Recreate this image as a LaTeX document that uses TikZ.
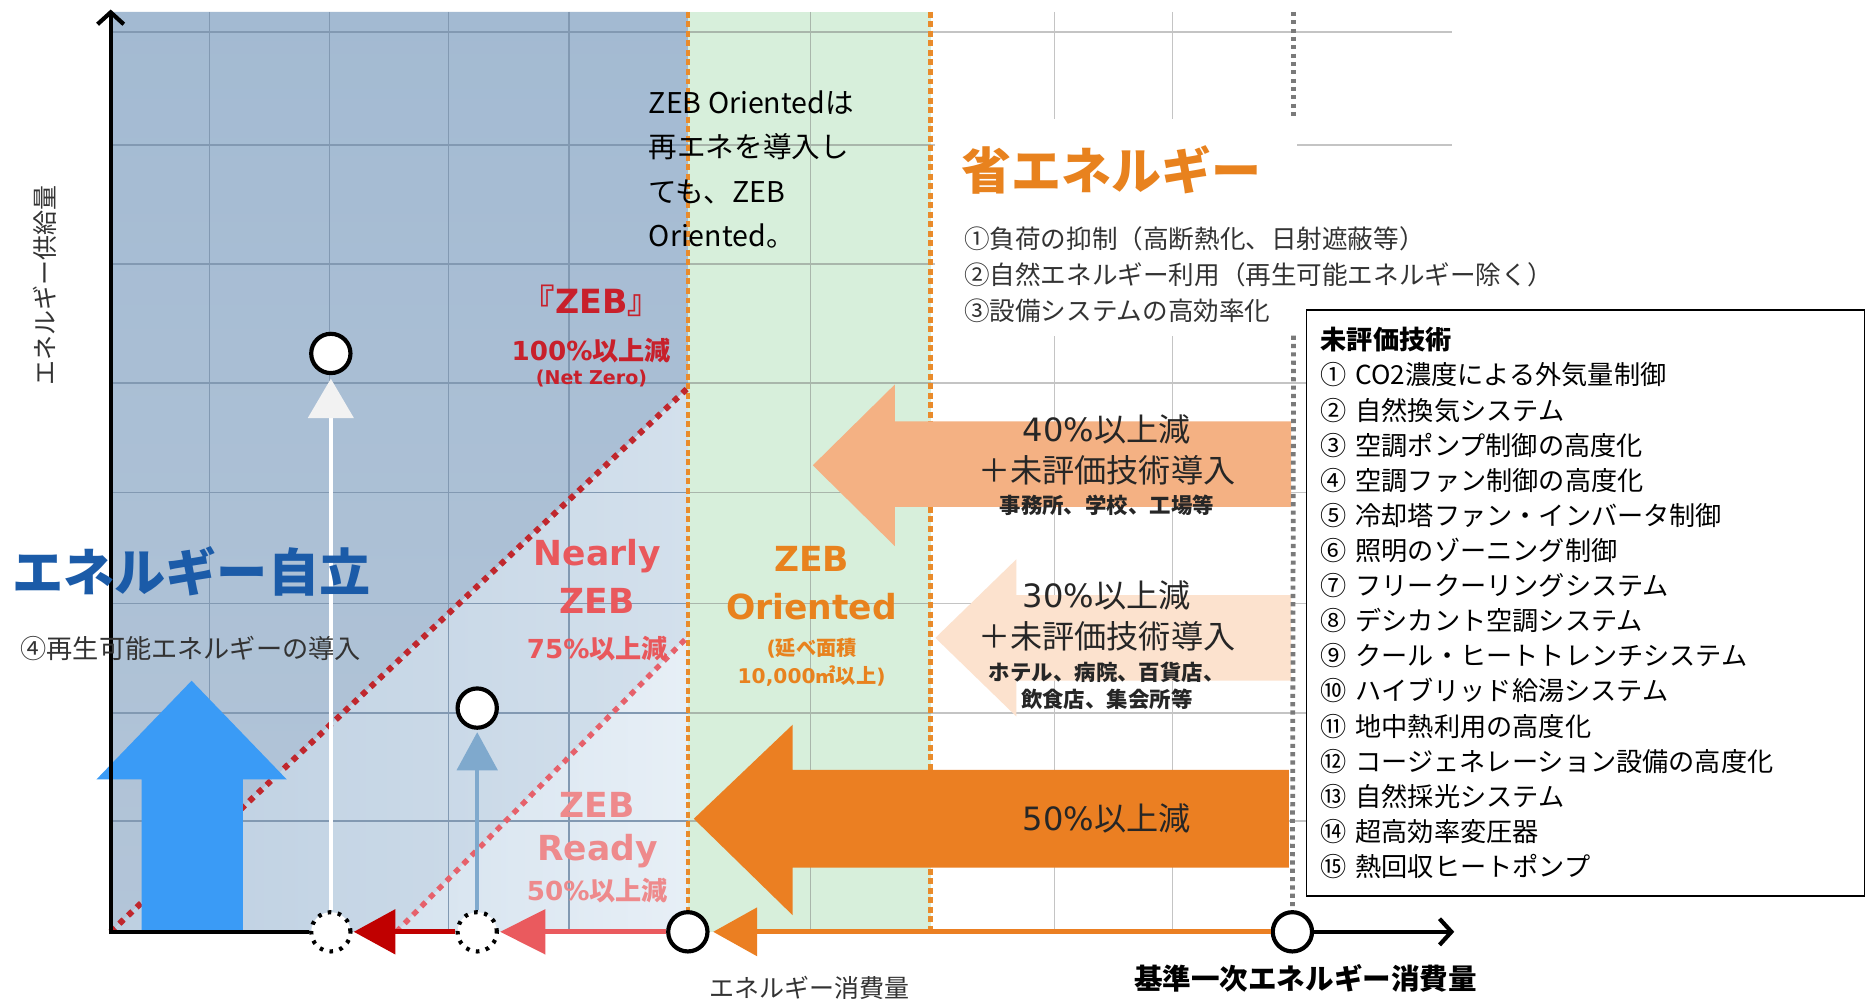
\documentclass[tikz,border=0pt]{standalone}
\usepackage{fontspec}
\setmainfont{Noto Sans CJK JP}
\newfontfamily\dv{DejaVu Sans}
\usetikzlibrary{arrows.meta}
\newcommand\fsz[2]{\fontsize{#1}{#2}\selectfont}
\definecolor{bgdarkA}{HTML}{A3BAD2}
\definecolor{bgdarkB}{HTML}{B3C5D8}
\definecolor{bgmidA}{HTML}{BDCFE1}
\definecolor{bgmidB}{HTML}{D3E0EC}
\definecolor{bglightA}{HTML}{D6E3EF}
\definecolor{bglightB}{HTML}{E7EFF6}
\definecolor{greenbg}{HTML}{D7EFDB}
\definecolor{gridblue}{HTML}{8299B2}
\definecolor{gridgreen}{HTML}{A9B6AB}
\definecolor{gridgrey}{HTML}{C4C4C4}
\definecolor{odot}{HTML}{E98B2B}
\definecolor{gdot}{HTML}{7A7A7A}
\definecolor{diagA}{HTML}{C0272D}
\definecolor{diagB}{HTML}{E6616B}
\definecolor{arrdark}{HTML}{C00000}
\definecolor{arrpink}{HTML}{EA5A5E}
\definecolor{orD}{HTML}{EB7F22}
\definecolor{orM}{HTML}{F4B183}
\definecolor{orL}{HTML}{FCE2CE}
\definecolor{bigblue}{HTML}{3A9BF6}
\definecolor{thinblue}{HTML}{7FA9CD}
\definecolor{headwhite}{HTML}{F2F2F2}
\definecolor{jblue}{HTML}{1B5BA8}
\definecolor{zred}{HTML}{C8202B}
\definecolor{nred}{HTML}{E9585C}
\definecolor{rpink}{HTML}{EE8A8C}
\definecolor{otext}{HTML}{E8821E}
\definecolor{dtext}{HTML}{333333}
\definecolor{atext}{HTML}{262626}
\begin{document}
\begin{tikzpicture}[x=1pt,y=-1pt,
  circ/.style={circle,draw=black,fill=white,line width=3.5pt,minimum size=33pt,inner sep=0pt},
  dcirc/.style={circle,draw=black,fill=white,line width=3.5pt,dash pattern=on 3pt off 5.5pt,minimum size=33pt,inner sep=0pt},
  gridb/.style={gridblue,line width=1.2pt},
  gridg/.style={gridgreen,line width=1.2pt},
  gridw/.style={gridgrey,line width=1.2pt},
  odash/.style={odot,line width=3.8pt,dash pattern=on 5pt off 3pt},
  gdash/.style={gdot,line width=4pt,dash pattern=on 3.5pt off 3.5pt},
  lbl/.style={inner sep=0pt,align=center},
  axisline/.style={black,line width=3.5pt},
  ]
\fill[white] (0,0) rectangle (1568,845);
\useasboundingbox (0,0) rectangle (1568,845);

% background regions
\shade[top color=bgdarkA, bottom color=bgdarkB] (93,10) -- (578,10) -- (578,326) -- (93,783) -- cycle;
\shade[left color=bgmidA, right color=bgmidB] (93,783) -- (578,326) -- (578,783) -- cycle;
\shade[left color=bglightA, right color=bglightB] (333,783) -- (578,535) -- (578,783) -- cycle;
\fill[greenbg] (578,10) rectangle (782,783);

% grid
\foreach \gx in {176,277,377,478} \draw[gridb] (\gx,10) -- (\gx,783);
\draw[gridg] (681,10) -- (681,783);
\foreach \gx in {886,985} \draw[gridw] (\gx,10) -- (\gx,783);
\foreach \gy in {27,122,222,322,414,507,599,690} {
  \draw[gridb] (93,\gy) -- (578,\gy);
  \draw[gridg] (578,\gy) -- (782,\gy);
  \draw[gridw] (782,\gy) -- (1220,\gy);
}
\fill[white] (786,100) rectangle (1090,282);

% dotted boundaries
\draw[odash] (578,10) -- (578,783);
\draw[odash] (782,10) -- (782,783);
\draw[diagA, line width=5pt, dash pattern=on 5pt off 5pt] (93,783) -- (578,326);
\draw[diagB, line width=4.5pt, dash pattern=on 5pt off 5pt] (333,783) -- (578,535);

% big orange reduction arrows
\fill[orL] (1085,500) -- (854,500) -- (854,470) -- (786,536) -- (854,602) -- (854,572) -- (1085,572) -- cycle;
\fill[orM] (1085,354) -- (752,354) -- (752,323) -- (683,391) -- (752,459) -- (752,426) -- (1085,426) -- cycle;
\fill[orD] (1083,647) -- (666,647) -- (666,609) -- (583,688) -- (666,769) -- (666,729) -- (1083,729) -- cycle;

% big blue arrow
\fill[bigblue] (119,783) -- (119,655) -- (81,655) -- (161,572) -- (241,655) -- (204,655) -- (204,783) -- cycle;

% circles
\node[dcirc] (d1) at (278,783) {};
\node[dcirc] (d2) at (401,783) {};
\node[circ] (cA) at (578,783) {};
\node[circ] (cB) at (1086,783) {};
\node[circ] (c3) at (278,297) {};
\node[circ] (c4) at (401,595) {};
\coordinate (orig) at (93,783);
\coordinate (ytop) at (93,8);
\coordinate (xend) at (1222,783);
\coordinate (gtop) at (1087,10);
\coordinate (gmid) at (1087,100);
\coordinate (gmid2) at (1087,282);

% grey dotted reference line
\draw[gdash] (gtop) -- (gmid);
\draw[gdash] (gmid2) -- (cB.north);

% axes
\draw[axisline, -{Straight Barb[length=10pt,width=22pt]}] ([yshift=-2pt]orig) -- (ytop);
\draw[axisline] (orig) -- (d1.west);
\draw[axisline, -{Straight Barb[length=10pt,width=22pt]}] (cB.east) -- (xend);

% axis arrows
\draw[orD, line width=4.5pt, -{Triangle[length=37pt,width=40pt]}, shorten >=3pt] (cB.west) -- (cA.east);
\draw[arrpink, line width=4.5pt, -{Triangle[length=38pt,width=37pt]}, shorten >=1pt] (cA.west) -- (d2.east);
\draw[arrdark, line width=4.5pt, -{Triangle[length=35pt,width=37pt]}, shorten >=1pt] (d2.west) -- (d1.east);

% vertical arrows
\draw[white, line width=3pt, -{Triangle[length=33pt,width=38pt,color=headwhite]}, shorten >=3pt] (d1.north) -- (c3.south);
\draw[thinblue, line width=3pt, -{Triangle[length=32pt,width=34pt]}, shorten >=2pt] (d2.north) -- (c4.south);

% left texts
\node[rotate=90, font=\fsz{21}{21}, text=dtext] (supply) at (38,240) {エネルギー供給量};
\node[anchor=west, inner sep=0pt, font=\bfseries\fsz{43}{43}, text=jblue] (jiritsu) at (10,480) {エネルギー自立};
\node[anchor=west, inner sep=0pt, font=\fsz{22}{22}, text=dtext] (renew) at (17,545) {④再生可能エネルギーの導入};

% ZEB labels
\node[lbl, text=zred, font=\bfseries\fsz{28}{28}] (zeb1) at (497,253) {『{\dv ZEB}』};
\node[lbl, text=zred, font=\bfseries\fsz{22}{22}] (zeb2) at (497,295) {{\dv 100\%}以上減};
\node[lbl, text=zred, font=\dv\bfseries\fsz{16}{16}] (zeb3) at (497,318) {(Net Zero)};
\node[lbl, text=nred, font=\dv\bfseries\fsz{29}{29}] (nz1) at (502,467) {Nearly};
\node[lbl, text=nred, font=\dv\bfseries\fsz{29}{29}] (nz2) at (502,505) {ZEB};
\node[lbl, text=nred, font=\bfseries\fsz{22}{22}] (nz3) at (502,545) {{\dv 75\%}以上減};
\node[lbl, text=rpink, font=\dv\bfseries\fsz{29}{29}] (zr1) at (502,676) {ZEB};
\node[lbl, text=rpink, font=\dv\bfseries\fsz{29}{29}] (zr2) at (502,715) {Ready};
\node[lbl, text=rpink, font=\bfseries\fsz{22}{22}] (zr3) at (502,748) {{\dv 50\%}以上減};
\node[lbl, text=otext, font=\dv\bfseries\fsz{29}{29}] (zo1) at (682,470) {ZEB};
\node[lbl, text=otext, font=\dv\bfseries\fsz{29}{29}] (zo2) at (682,510) {Oriented};
\node[lbl, text=otext, font=\bfseries\fsz{17}{17}] (zo3) at (682,545) {{\dv (}延べ面積};
\node[lbl, text=otext, font=\bfseries\fsz{17}{17}] (zo4) at (682,568) {{\dv 10,000}㎡以上{\dv )}};

% note
\node[anchor=north west, align=left, inner sep=0pt, font=\fsz{24}{37.3}] (note) at (545,76) {ZEB Orientedは\\再エネを導入し\\ても、ZEB\\Oriented。};

% energy saving
\node[anchor=west, inner sep=0pt, text=otext, font=\bfseries\fsz{42}{42}] (shoene) at (808,143) {省エネルギー};
\node[anchor=west, inner sep=2pt, fill=white, text=dtext, font=\fsz{21.5}{21.5}] (m1) at (808,201) {①負荷の抑制（高断熱化、日射遮蔽等）};
\node[anchor=west, inner sep=2pt, fill=white, text=dtext, font=\fsz{21.5}{21.5}] (m2) at (808,231) {②自然エネルギー利用（再生可能エネルギー除く）};
\node[anchor=west, inner sep=2pt, fill=white, text=dtext, font=\fsz{21.5}{21.5}] (m3) at (808,261) {③設備システムの高効率化};

% arrow texts
\node[lbl, text=atext, font=\fsz{27}{27}] (t40a) at (930,361) {{\dv 40\%}以上減};
\node[lbl, text=atext, font=\fsz{27}{27}] (t40b) at (930,395) {＋未評価技術導入};
\node[lbl, text=atext, font=\bfseries\fsz{18}{18}] (t40c) at (930,425) {事務所、学校、工場等};
\node[lbl, text=atext, font=\fsz{27}{27}] (t30a) at (930,500) {{\dv 30\%}以上減};
\node[lbl, text=atext, font=\fsz{27}{27}] (t30b) at (930,535) {＋未評価技術導入};
\node[lbl, text=atext, font=\bfseries\fsz{18}{18}] (t30c) at (930,565) {ホテル、病院、百貨店、};
\node[lbl, text=atext, font=\bfseries\fsz{18}{18}] (t30d) at (930,588) {飲食店、集会所等};
\node[lbl, text=atext, font=\fsz{27}{27}] (t50) at (930,688) {{\dv 50\%}以上減};

% axis labels
\node[font=\fsz{21}{21}, text=dtext] (xlab) at (680,830) {エネルギー消費量};
\node[font=\bfseries\fsz{24}{24}, text=black] (baselab) at (1097,822) {基準一次エネルギー消費量};

% unevaluated technologies box
\node[draw=black, line width=1.5pt, fill=white, anchor=north west, minimum width=469pt, minimum height=492pt, text width=445pt, inner xsep=12pt, align=left, font=\fsz{22}{29.5}] (mibox) at (1097,260) {{\bfseries 未評価技術}\\
① CO2濃度による外気量制御\\
② 自然換気システム\\
③ 空調ポンプ制御の高度化\\
④ 空調ファン制御の高度化\\
⑤ 冷却塔ファン・インバータ制御\\
⑥ 照明のゾーニング制御\\
⑦ フリークーリングシステム\\
⑧ デシカント空調システム\\
⑨ クール・ヒートトレンチシステム\\
⑩ ハイブリッド給湯システム\\
⑪ 地中熱利用の高度化\\
⑫ コージェネレーション設備の高度化\\
⑬ 自然採光システム\\
⑭ 超高効率変圧器\\
⑮ 熱回収ヒートポンプ};
\end{tikzpicture}
\end{document}
